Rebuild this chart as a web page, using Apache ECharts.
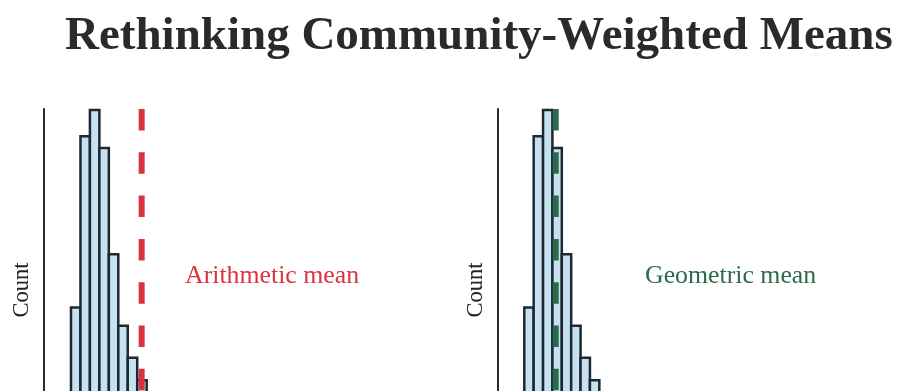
<!DOCTYPE html>
<html>
<head>
<meta charset="utf-8">
<script src="https://cdn.jsdelivr.net/npm/echarts@6/dist/echarts.min.js"></script>
<style>
html,body{margin:0;padding:0;background:#fff;}
#chart{width:920px;height:391px;}
</style>
</head>
<body>
<div id="chart"></div>
<script>
// ---- data ----
var titleText = 'Rethinking Community-Weighted Means';
var binStarts = [0, 1, 2, 3, 4, 5, 6, 7];
var binEnds   = [1, 2, 3, 4, 5, 6, 7, 8];
var counts    = [45.2, 92.5, 99.7, 89.2, 59.9, 40.1, 31.3, 25.1];
var arithmeticMean = 7.47;
var geometricMean  = 3.35;
var labelArith = 'Arithmetic mean';
var labelGeo   = 'Geometric mean';
var yLabel = 'Count';

var serif = '"Liberation Serif", "DejaVu Serif", serif';
var barFill = '#c6e2f1';
var barStroke = '#1e2832';
var red = '#d9333f';
var green = '#2b6a4b';

function histData() {
  var out = [];
  for (var i = 0; i < counts.length; i++) out.push([binStarts[i], binEnds[i], counts[i]]);
  return out;
}
function renderBin(params, api) {
  var p0 = api.coord([api.value(0), api.value(2)]);
  var p1 = api.coord([api.value(1), 0]);
  return {
    type: 'rect',
    shape: { x: p0[0], y: p0[1], width: p1[0] - p0[0], height: p1[1] - p0[1] },
    style: { fill: barFill, stroke: barStroke, lineWidth: 2.5 }
  };
}
function yAx(idx, off) {
  return {
    gridIndex: idx, type: 'value', min: 0, max: 100, offset: off,
    axisLine: { show: true, onZero: false, lineStyle: { color: '#2a2a2a', width: 2 } },
    axisTick: { show: false }, axisLabel: { show: false }, splitLine: { show: false },
    name: yLabel, nameLocation: 'middle', nameRotate: 90, nameGap: 10,
    nameTextStyle: { fontFamily: serif, fontSize: 22.5, color: '#222' }
  };
}
function xAx(idx) {
  return {
    gridIndex: idx, type: 'value', min: 0, max: 30,
    axisLine: { show: false }, axisTick: { show: false }, axisLabel: { show: false }, splitLine: { show: false }
  };
}

var chart = echarts.init(document.getElementById('chart'));
chart.setOption({
  animation: false,
  backgroundColor: '#fff',
  title: {
    text: titleText, left: 60, top: 8,
    textStyle: { fontFamily: serif, fontWeight: 'bold', fontSize: 47, color: '#2a2a2a' }
  },
  grid: [
    { left: 71, top: 109, width: 283.8, height: 362, outerBoundsMode: 'none' },
    { left: 524.3, top: 109, width: 281.3, height: 362, outerBoundsMode: 'none' }
  ],
  xAxis: [xAx(0), xAx(1)],
  yAxis: [yAx(0, 27), yAx(1, 26.6)],
  series: [
    { type: 'custom', xAxisIndex: 0, yAxisIndex: 0, renderItem: renderBin, data: histData(), z: 2 },
    { type: 'custom', xAxisIndex: 1, yAxisIndex: 1, renderItem: renderBin, data: histData(), z: 2 },
    { type: 'line', xAxisIndex: 0, yAxisIndex: 0, symbol: 'none', z: 5,
      data: [[arithmeticMean, 100], [arithmeticMean, 0]],
      lineStyle: { color: red, width: 6, type: [21.5, 21.8], cap: 'butt' } },
    { type: 'line', xAxisIndex: 1, yAxisIndex: 1, symbol: 'none', z: 5,
      data: [[geometricMean, 100], [geometricMean, 0]],
      lineStyle: { color: green, width: 6, type: [21.5, 21.8], cap: 'butt' } }
  ],
  graphic: [
    { type: 'text', left: 185, top: 263, style: { text: labelArith, font: '25.8px ' + serif, fill: red } },
    { type: 'text', left: 645, top: 263, style: { text: labelGeo, font: '25.8px ' + serif, fill: green } }
  ]
});
</script>
</body>
</html>
